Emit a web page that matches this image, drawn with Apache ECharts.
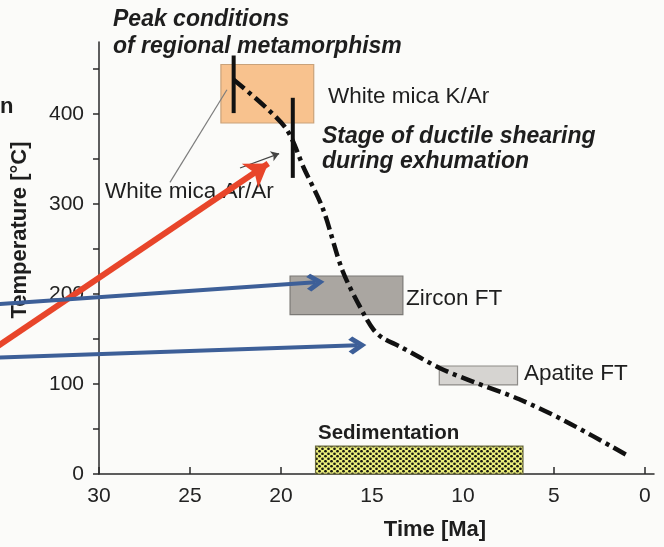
<!DOCTYPE html>
<html>
<head>
<meta charset="utf-8">
<script src="https://cdn.jsdelivr.net/npm/echarts@6/dist/echarts.min.js"></script>
<style>
  html, body { margin: 0; padding: 0; background: #fbfbf9; }
  #chart { width: 664px; height: 547px; }
</style>
</head>
<body>
<div id="chart"></div>
<script>
// axis ticks
var timeTicks = [30, 25, 20, 15, 10, 5, 0];
var tempLabels = [0, 100, 200, 300, 400];
var tempTicks = [0, 50, 100, 150, 200, 250, 300, 350, 400, 450];

// cooling path (Ma, degC)
var pathTime = [22.6, 19.8, 18.7, 17.7, 16.6, 15.4, 14.9, 14.4, 13.5, 11.2, 9.5, 6.9, 4.4, 0.9];
var pathTemp = [438, 386, 338, 295, 225, 176, 160, 151, 142, 117, 103, 83, 59, 20];

// age boxes
var boxNames = ['White mica K/Ar', 'Zircon FT', 'Apatite FT', 'Sedimentation'];
var boxTimeStart = [23.3, 19.5, 11.3, 18.1];
var boxTimeEnd = [18.2, 13.3, 7.0, 6.7];
var boxTempLow = [390, 177, 99, 0];
var boxTempHigh = [455, 220, 120, 31];

// vertical bars (peak / ductile shearing)
var barTime = [22.6, 19.35];
var barTop = [465, 418];
var barBottom = [401, 329];

// arrows coming in from the left
var arrowFromTime = [36.0, 36.0, 36.0];
var arrowFromTemp = [136, 188, 129];
var arrowToTime = [20.7, 18.1, 15.8];
var arrowToTemp = [345, 213, 143];

// pointers of the "White mica Ar/Ar" label
var pointerFromTime = [26.1, 22.25];
var pointerFromTemp = [324, 340];
var pointerToTime = [22.97, 20.1];
var pointerToTemp = [427, 356];

var FONT = '"Liberation Sans", Arial, sans-serif';

function dotPattern() {
    var c = document.createElement('canvas');
    c.width = 6;
    c.height = 5;
    var ctx = c.getContext('2d');
    ctx.fillStyle = '#ecef7c';
    ctx.fillRect(0, 0, 6, 5);
    ctx.fillStyle = '#1b1b12';
    [[1.5, 1.25], [4.5, 3.75]].forEach(function (p) {
        ctx.beginPath();
        ctx.arc(p[0], p[1], 1.35, 0, Math.PI * 2);
        ctx.fill();
    });
    return c;
}

var boxStyles = [
    { fill: '#f8c28e', stroke: '#c9a27a' },
    { fill: '#aaa6a1', stroke: '#7b7976' },
    { fill: '#d6d4d1', stroke: '#8d8b88' },
    { fill: { image: dotPattern(), repeat: 'repeat' }, stroke: '#6b6b40' }
];

var boxData = boxNames.map(function (name, i) {
    return [boxTimeStart[i], boxTimeEnd[i], boxTempLow[i], boxTempHigh[i], i];
});

var barSeries = barTime.map(function (t, i) {
    return {
        type: 'line',
        data: [[t, barTop[i]], [t, barBottom[i]]],
        symbol: 'none',
        silent: true,
        z: 4,
        lineStyle: { color: '#111', width: 4, cap: 'butt' }
    };
});

var chevron = 'path://M10,0 L20,10 L16.5,13 L10,6.5 L3.5,13 L0,10 Z';

function text(str, x, y, font, align, rotation) {
    return {
        type: 'text',
        x: x,
        y: y,
        z: 1,
        rotation: rotation || 0,
        style: { text: str, font: font, fill: '#1e1e1e', verticalAlign: 'middle', align: align || 'left' }
    };
}

var myChart = echarts.init(document.getElementById('chart'));

var option = {
    backgroundColor: '#fbfbf9',
    animation: false,
    grid: { left: 99, right: 10, top: 42, bottom: 73 },
    xAxis: {
        type: 'value',
        inverse: true,
        min: -0.5,
        max: 30,
        axisLine: { onZero: false, lineStyle: { color: '#2a2a2a', width: 1.5 } },
        axisTick: { inside: true, length: 7, customValues: timeTicks, lineStyle: { color: '#2a2a2a', width: 1.5 } },
        axisLabel: { customValues: timeTicks, margin: 12, fontSize: 21, color: '#222', fontFamily: FONT },
        splitLine: { show: false }
    },
    yAxis: {
        type: 'value',
        position: 'left',
        min: 0,
        max: 480,
        axisLine: { show: true, onZero: false, lineStyle: { color: '#2a2a2a', width: 1.5 } },
        axisTick: { show: true, length: 6, customValues: tempTicks, lineStyle: { color: '#2a2a2a', width: 1.5 } },
        axisLabel: { customValues: tempLabels, margin: 15, fontSize: 21, color: '#222', fontFamily: FONT },
        splitLine: { show: false }
    },
    graphic: [
        text('Peak conditions', 113, 20, 'italic bold 23px ' + FONT),
        text('of regional metamorphism', 113, 47, 'italic bold 23px ' + FONT),
        text('White mica K/Ar', 328, 97, '22.5px ' + FONT),
        text('Stage of ductile shearing', 322, 137, 'italic bold 23px ' + FONT),
        text('during exhumation', 322, 162, 'italic bold 23px ' + FONT),
        text('White mica Ar/Ar', 105, 192, '22.5px ' + FONT),
        text('Zircon FT', 406, 299, '22.5px ' + FONT),
        text('Apatite FT', 524, 374, '22.5px ' + FONT),
        text('Sedimentation', 318, 433, 'bold 20.5px ' + FONT),
        text('Time [Ma]', 435, 530, 'bold 22px ' + FONT, 'center'),
        text('Temperature [°C]', 20, 230, 'bold 22px ' + FONT, 'center', Math.PI / 2),
        text('n', 0, 107, 'bold 22px ' + FONT)
    ],
    series: [
        {
            type: 'custom',
            z: 1,
            silent: true,
            data: boxData,
            renderItem: function (params, api) {
                var p1 = api.coord([api.value(0), api.value(3)]);
                var p2 = api.coord([api.value(1), api.value(2)]);
                var st = boxStyles[api.value(4)];
                return {
                    type: 'rect',
                    shape: {
                        x: Math.min(p1[0], p2[0]),
                        y: Math.min(p1[1], p2[1]),
                        width: Math.abs(p2[0] - p1[0]),
                        height: Math.abs(p2[1] - p1[1])
                    },
                    style: { fill: st.fill, stroke: st.stroke, lineWidth: 1.2 }
                };
            }
        },
        {
            type: 'line',
            z: 3,
            silent: true,
            data: pathTime.map(function (t, i) { return [t, pathTemp[i]]; }),
            symbol: 'none',
            smooth: 0.3,
            lineStyle: { color: '#111', width: 4.5, type: [14, 5, 4, 5], cap: 'butt' }
        }
    ].concat(barSeries).concat([
        {
            type: 'lines',
            coordinateSystem: 'cartesian2d',
            clip: false,
            silent: true,
            z: 3,
            symbol: ['none', 'arrow'],
            symbolSize: 8,
            lineStyle: { color: '#7d7d7d', width: 1.2, opacity: 1 },
            data: [
                { coords: [[pointerFromTime[0], pointerFromTemp[0]], [pointerToTime[0], pointerToTemp[0]]], symbol: ['none', 'none'] },
                { coords: [[pointerFromTime[1], pointerFromTemp[1]], [pointerToTime[1], pointerToTemp[1]]], lineStyle: { color: '#444' } }
            ]
        },
        {
            type: 'lines',
            coordinateSystem: 'cartesian2d',
            clip: false,
            silent: true,
            z: 5,
            symbol: ['none', 'arrow'],
            symbolSize: 22,
            lineStyle: { color: '#e8452a', width: 6, opacity: 1 },
            data: [
                { coords: [[arrowFromTime[0], arrowFromTemp[0]], [arrowToTime[0], arrowToTemp[0]]] }
            ]
        },
        {
            type: 'lines',
            coordinateSystem: 'cartesian2d',
            clip: false,
            silent: true,
            z: 5,
            symbol: ['none', chevron],
            symbolSize: 18,
            symbolKeepAspect: true,
            lineStyle: { color: '#3d5f98', width: 4, opacity: 1 },
            data: [
                { coords: [[arrowFromTime[1], arrowFromTemp[1]], [arrowToTime[1], arrowToTemp[1]]] },
                { coords: [[arrowFromTime[2], arrowFromTemp[2]], [arrowToTime[2], arrowToTemp[2]]] }
            ]
        }
    ])
};

myChart.setOption(option);
</script>
</body>
</html>
